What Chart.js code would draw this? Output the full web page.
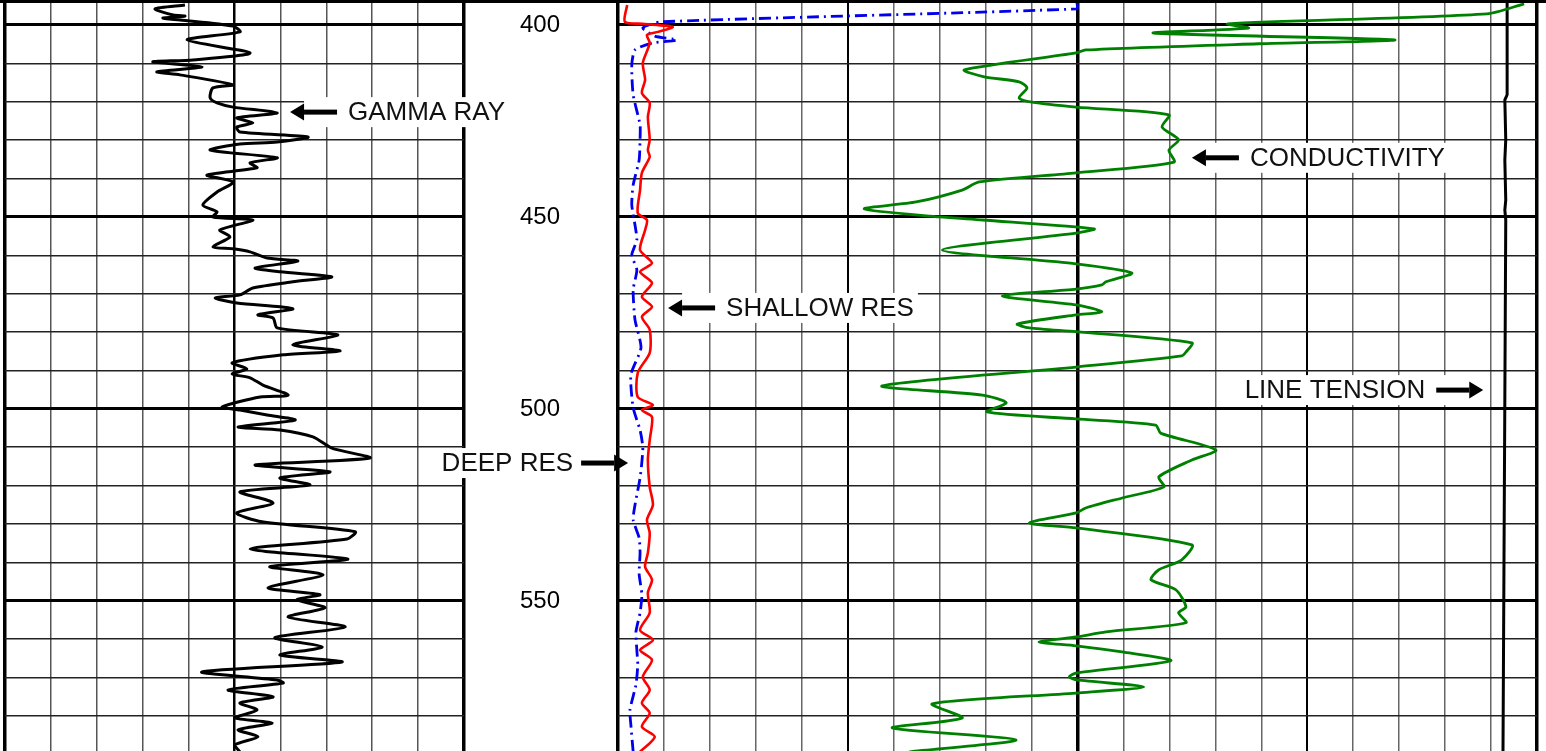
<!DOCTYPE html>
<html>
<head>
<meta charset="utf-8">
<title>Well log</title>
<script src="https://cdn.jsdelivr.net/npm/chart.js@4.4.1/dist/chart.umd.min.js"></script>
<style>
  html, body { margin: 0; padding: 0; background: #fff; overflow: hidden; }
  #wrap { position: relative; width: 1546px; height: 751px; }
  canvas { position: absolute; top: 0; }
  #grCanvas { left: 0; }
  #resCanvas { left: 430px; }
  #topLine { position: absolute; left: 0; top: 0; width: 1546px; height: 3px; background: #000; z-index: 5; }
</style>
</head>
<body>
<div id="wrap">
  <canvas id="grCanvas" width="618" height="751"></canvas>
  <canvas id="resCanvas" width="1116" height="751"></canvas>
  <div id="topLine"></div>
</div>
<script>
// depth window shown on the log (ft)
const depthTop = 393.5;
const depthBottom = 589.1;
const gridDepths = [400, 410, 420, 430, 440, 450, 460, 470, 480, 490, 500, 510, 520, 530, 540, 550, 560, 570, 580];
const depthLabels = [400, 450, 500, 550];
const grGridValues = [0, 10, 20, 30, 40, 50, 60, 70, 80, 90, 100];
const resGridValues = [0, 10, 20, 30, 40, 50, 60, 70, 80, 90, 100, 110, 120, 130, 140, 150, 160, 170, 180, 190, 200];

// gamma ray (API), track 1
const grDepth = [394.8, 395.8, 397.4, 397.7, 398.2, 398.7, 400.3, 401.8, 403.9, 407.3,
  409.1, 409.6, 410.9, 412.2, 413.0, 415.6, 416.4, 419.0, 420.3, 421.4,
  422.9, 424.2, 425.5, 426.6, 427.9, 429.2, 430.5, 431.0, 432.6, 434.6,
  435.9, 437.2, 439.1, 440.9, 443.5, 446.9, 448.7, 450.0, 450.8, 453.4,
  455.2, 457.8, 458.3, 459.1, 460.7, 461.5, 463.3, 464.3, 465.6, 466.9,
  468.5, 470.3, 471.1, 472.4, 473.4, 474.0, 475.5, 476.3, 478.9, 480.7,
  483.3, 484.9, 485.9, 488.0, 489.6, 490.9, 491.9, 493.8, 496.4, 496.9,
  499.5, 500.3, 501.6, 502.9, 504.7, 505.5, 507.3, 510.2, 512.8, 514.6,
  516.4, 518.0, 519.8, 521.6, 524.5, 527.1, 529.4, 532.0, 533.9, 536.5,
  539.1, 541.1, 543.2, 546.6, 548.4, 549.7, 551.8, 554.2, 556.8, 559.6,
  562.0, 564.1, 565.9, 568.5, 570.6, 571.4, 573.2, 575.0, 576.6, 578.4,
  580.5, 581.8, 583.6, 585.4, 587.5, 589.3];
const grValue = [39.2, 32.7, 36.6, 39.2, 34.4, 38.1, 49.7, 51.2, 39.7, 53.4,
  41.0, 32.2, 42.9, 33.1, 38.1, 49.7, 45.3, 44.7, 46.2, 49.7,
  59.3, 50.5, 54.0, 50.5, 51.2, 66.0, 59.3, 51.2, 44.7, 59.3,
  53.4, 54.9, 44.0, 49.7, 46.2, 43.1, 46.2, 45.3, 54.0, 46.8,
  49.0, 45.3, 49.7, 53.4, 57.1, 63.8, 54.5, 59.9, 71.2, 62.7,
  54.0, 51.2, 45.8, 50.5, 59.9, 62.7, 55.1, 58.4, 59.3, 72.5,
  62.7, 73.0, 60.6, 49.5, 52.7, 49.5, 53.4, 56.2, 61.7, 55.6,
  47.3, 51.2, 57.1, 63.2, 50.8, 59.9, 67.1, 71.2, 79.5, 54.5,
  70.8, 59.9, 66.4, 51.2, 58.4, 50.5, 56.0, 76.3, 74.5, 53.4,
  74.7, 57.7, 69.3, 57.3, 68.6, 63.6, 69.7, 61.7, 74.1, 58.8,
  69.1, 59.9, 73.4, 42.9, 59.3, 60.6, 48.6, 58.4, 51.2, 54.9,
  50.1, 58.2, 50.8, 55.1, 50.1, 51.2];

// shallow resistivity (ohm-m)
const shallowDepth = [394.8, 399.2, 399.7, 400.5, 401.8, 402.6, 404.7, 409.9, 414.3, 417.7,
  420.3, 424.0, 429.9, 432.6, 434.4, 438.5, 443.0, 449.0, 450.8, 453.4,
  458.6, 462.0, 464.3, 467.2, 470.8, 473.4, 476.0, 479.4, 485.4, 490.6,
  496.9, 499.0, 500.3, 502.1, 508.1, 513.3, 520.3, 525.0, 528.9, 532.3,
  537.5, 541.1, 544.5, 547.9, 553.1, 557.6, 560.2, 562.8, 565.4, 569.8,
  573.2, 576.6, 579.2, 582.8, 585.4, 589.3];
const shallowValue = [2.0, 1.5, 5.4, 11.9, 8.7, 6.3, 6.9, 5.4, 5.9, 5.2,
  6.9, 6.5, 6.9, 6.5, 6.9, 5.2, 4.8, 4.3, 6.3, 5.9,
  4.8, 7.4, 4.8, 7.4, 5.2, 7.4, 5.2, 6.9, 6.9, 4.3,
  4.3, 7.6, 5.2, 7.4, 6.9, 6.5, 6.9, 7.6, 6.3, 6.9,
  6.5, 5.9, 7.4, 6.5, 6.9, 4.8, 7.6, 4.8, 7.4, 5.4,
  6.9, 5.2, 6.9, 5.2, 8.0, 4.8];

// deep resistivity (ohm-m)
const deepDepth = [394.3, 395.8, 399.2, 400.8, 402.9, 403.9, 404.7, 406.5, 410.4, 418.2,
  426.0, 429.9, 435.2, 441.7, 446.9, 452.1, 456.0, 459.9, 463.8, 469.0,
  476.8, 484.1, 491.1, 499.7, 505.5, 509.9, 513.8, 518.0, 525.0, 528.9,
  533.6, 537.5, 543.0, 548.4, 553.1, 558.1, 562.8, 566.7, 571.9, 578.4,
  582.3, 589.3];
const deepValue = [99.9, 99.9, 9.1, 5.4, 8.0, 12.8, 7.4, 3.7, 3.0, 3.3,
  4.8, 4.8, 4.6, 3.3, 3.0, 3.7, 4.1, 3.0, 4.1, 3.3,
  3.7, 5.0, 2.8, 3.3, 4.8, 5.4, 5.2, 4.8, 3.7, 3.3,
  4.6, 4.8, 4.6, 5.2, 4.8, 3.9, 4.1, 4.3, 3.9, 2.6,
  2.8, 3.3];

// conductivity (mmho/m)
const condDepth = [394.5, 397.1, 399.7, 400.8, 402.1, 403.9, 404.9, 406.5, 407.3, 411.7,
  413.5, 414.8, 416.4, 419.0, 420.1, 421.4, 423.4, 426.6, 429.9, 432.6,
  435.7, 438.5, 440.9, 443.0, 446.1, 447.9, 450.0, 450.8, 453.1, 454.2,
  458.6, 462.2, 464.6, 466.9, 467.7, 468.8, 470.6, 472.9, 474.7, 475.5,
  477.9, 478.9, 479.9, 482.8, 485.2, 486.2, 489.1, 494.0, 496.4, 498.4,
  500.8, 502.6, 504.2, 506.3, 510.7, 513.3, 517.7, 520.3, 523.2, 525.8,
  527.1, 529.7, 531.0, 535.4, 539.3, 541.9, 544.5, 547.1, 551.6, 553.1,
  555.7, 558.1, 559.4, 560.7, 561.7, 563.3, 565.6, 568.8, 569.8, 570.6,
  572.4, 574.0, 576.8, 580.5, 583.1, 586.2, 589.3];
const condValue = [1972, 1891, 1327, 1372, 1166, 1690, 1394, 1018, 997, 754,
  797, 873, 890, 873, 901, 997, 1199, 1184, 1220, 1199,
  1210, 997, 786, 749, 649, 536, 699, 793, 1036, 997,
  706, 997, 1118, 1062, 1053, 997, 836, 997, 1053, 997,
  869, 895, 997, 1249, 1236, 1227, 997, 575, 793, 845,
  803, 997, 1170, 1181, 1301, 1249, 1177, 1188, 1097, 1018,
  997, 895, 997, 1249, 1227, 1177, 1160, 1214, 1236, 1220,
  1236, 1062, 997, 916, 997, 1097, 1203, 997, 982, 999,
  1144, 997, 684, 749, 597, 866, 634];

// line tension (lbs)
const tensionDepth = [394.3, 418.2, 419.5, 429.9, 435.2, 445.6, 448.2, 450.8, 497.7, 589.1];
const tensionValue = [1935, 1935, 1930, 1932, 1930, 1932, 1930, 1932, 1930, 1926];

Chart.defaults.font.family = '"Liberation Sans", Arial, sans-serif';

function toPoints(depths, values) {
  return depths.map((d, i) => ({ x: values[i], y: d }));
}

function depthGridColor(ctx) {
  return ctx.tick.value % 50 === 0 ? '#000' : '#222';
}
function depthGridWidth(ctx) {
  return ctx.tick.value % 50 === 0 ? 3 : 1.6;
}

// arrows + labels, positioned from the scales
const calloutPlugin = {
  id: 'callouts',
  beforeDatasetsDraw(chart, args, opts) {
    const ctx = chart.ctx;
    const yScale = chart.scales.y;
    ctx.save();
    ctx.font = '26px "Liberation Sans", Arial, sans-serif';
    ctx.textBaseline = 'middle';
    for (const c of opts.items) {
      const tipX = chart.scales[c.axis].getPixelForValue(c.value);
      const py = yScale.getPixelForValue(c.depth);
      const w = ctx.measureText(c.text).width;
      const dir = c.pointTo === 'left' ? 1 : -1;
      const headEnd = tipX + dir * 14;
      const tail = tipX + dir * 47;
      const textX = tipX + dir * (c.gap || 58);

      const x0 = dir > 0 ? headEnd : textX - w - 4;
      const x1 = dir > 0 ? textX + w + 4 : headEnd;
      ctx.fillStyle = '#fff';
      ctx.fillRect(x0, py - 15, x1 - x0, 30);

      ctx.fillStyle = '#000';
      ctx.fillRect(Math.min(headEnd, tail), py - 2.5, Math.abs(tail - headEnd), 5);
      ctx.beginPath();
      ctx.moveTo(tipX, py);
      ctx.lineTo(headEnd, py - 8.5);
      ctx.lineTo(headEnd, py + 8.5);
      ctx.closePath();
      ctx.fill();

      ctx.fillStyle = '#111';
      ctx.textAlign = dir > 0 ? 'left' : 'right';
      ctx.fillText(c.text, textX, py + 1);
    }
    ctx.restore();
  }
};

function makeDepthAxis() {
  return {
    type: 'linear',
    axis: 'y',
    reverse: true,
    min: depthTop,
    max: depthBottom,
    position: 'left',
    ticks: { display: false },
    grid: { drawTicks: false, color: depthGridColor, lineWidth: depthGridWidth },
    border: { display: false },
    afterBuildTicks: s => { s.ticks = gridDepths.map(v => ({ value: v })); },
    afterFit: s => { s.width = 0; s.paddingTop = 0; s.paddingBottom = 0; }
  };
}

// track 1 + depth column
new Chart(document.getElementById('grCanvas'), {
  type: 'scatter',
  data: {
    datasets: [{
      label: 'GAMMA RAY',
      data: toPoints(grDepth, grValue),
      showLine: true,
      borderColor: '#000',
      borderWidth: 3,
      pointRadius: 0,
      tension: 0.25,
      xAxisID: 'x',
      yAxisID: 'y'
    }]
  },
  options: {
    responsive: false,
    animation: false,
    devicePixelRatio: 1,
    layout: { padding: { left: 5, right: 0, top: 0, bottom: 0 } },
    plugins: {
      legend: { display: false },
      tooltip: { enabled: false },
      callouts: {
        items: [
          { text: 'GAMMA RAY', axis: 'x', value: 62.1, depth: 422.7, pointTo: 'left' }
        ]
      }
    },
    scales: {
      x: {
        type: 'linear',
        min: 0,
        max: 100,
        ticks: { display: false },
        grid: {
          drawTicks: false,
          color: c => (c.tick.value % 50 === 0 ? '#000' : '#555'),
          lineWidth: c => (c.tick.value === 0 || c.tick.value === 100 ? 3.5 : c.tick.value === 50 ? 2.5 : 1.5)
        },
        border: { display: false },
        afterBuildTicks: s => { s.ticks = grGridValues.map(v => ({ value: v })); },
        afterFit: s => { s.height = 0; s.paddingLeft = 0; s.paddingRight = 0; }
      },
      y: makeDepthAxis(),
      depth: {
        type: 'linear',
        axis: 'y',
        reverse: true,
        min: depthTop,
        max: depthBottom,
        position: 'right',
        grid: { display: false, drawTicks: false },
        border: { display: false },
        ticks: { padding: 56, color: '#000', font: { size: 24 }, crossAlign: 'near', callback: v => String(v) },
        afterBuildTicks: s => { s.ticks = depthLabels.map(v => ({ value: v })); },
        afterFit: s => { s.width = 154; s.paddingTop = 0; s.paddingBottom = 0; }
      }
    }
  },
  plugins: [calloutPlugin]
});

// tracks 2-3
new Chart(document.getElementById('resCanvas'), {
  type: 'scatter',
  data: {
    datasets: [
      {
        label: 'SHALLOW RES',
        data: toPoints(shallowDepth, shallowValue),
        showLine: true, borderColor: '#ff0000', borderWidth: 2.6, pointRadius: 0, tension: 0.25,
        xAxisID: 'xRes', yAxisID: 'y'
      },
      {
        label: 'DEEP RES',
        data: toPoints(deepDepth, deepValue),
        showLine: true, borderColor: '#0000ee', borderWidth: 2.8, borderDash: [12, 5, 2, 5], pointRadius: 0, tension: 0.2,
        xAxisID: 'xRes', yAxisID: 'y'
      },
      {
        label: 'CONDUCTIVITY',
        data: toPoints(condDepth, condValue),
        showLine: true, borderColor: '#008000', borderWidth: 2.8, pointRadius: 0, tension: 0.25,
        xAxisID: 'xCond', yAxisID: 'y'
      },
      {
        label: 'LINE TENSION',
        data: toPoints(tensionDepth, tensionValue),
        showLine: true, borderColor: '#000', borderWidth: 3, pointRadius: 0, tension: 0.01,
        xAxisID: 'xTen', yAxisID: 'y'
      }
    ]
  },
  options: {
    responsive: false,
    animation: false,
    devicePixelRatio: 1,
    layout: { padding: { left: 188, right: 9, top: 0, bottom: 0 } },
    plugins: {
      legend: { display: false },
      tooltip: { enabled: false },
      callouts: {
        items: [
          { text: 'SHALLOW RES', axis: 'xRes', value: 10.9, depth: 473.7, pointTo: 'left' },
          { text: 'DEEP RES', axis: 'xRes', value: 2.2, depth: 514.1, pointTo: 'right', gap: 55 },
          { text: 'CONDUCTIVITY', axis: 'xCond', value: 1249, depth: 434.6, pointTo: 'left' },
          { text: 'LINE TENSION', axis: 'xTen', value: 1883, depth: 495.1, pointTo: 'right' }
        ]
      }
    },
    scales: {
      xRes: {
        type: 'linear',
        axis: 'x',
        position: 'bottom',
        min: 0,
        max: 200,
        ticks: { display: false },
        grid: {
          drawTicks: false,
          color: c => (c.tick.value % 50 === 0 ? '#000' : '#666'),
          lineWidth: c => {
            const v = c.tick.value;
            if (v === 0 || v === 100 || v === 200) return 3.5;
            return v % 50 === 0 ? 2 : 1.5;
          }
        },
        border: { display: false },
        afterBuildTicks: s => { s.ticks = resGridValues.map(v => ({ value: v })); },
        afterFit: s => { s.height = 0; s.paddingLeft = 0; s.paddingRight = 0; }
      },
      xCond: { type: 'linear', axis: 'x', position: 'bottom', min: 0, max: 2000, display: false },
      xTen: { type: 'linear', axis: 'x', position: 'bottom', min: 0, max: 2000, display: false },
      y: makeDepthAxis()
    }
  },
  plugins: [calloutPlugin]
});
</script>
</body>
</html>
